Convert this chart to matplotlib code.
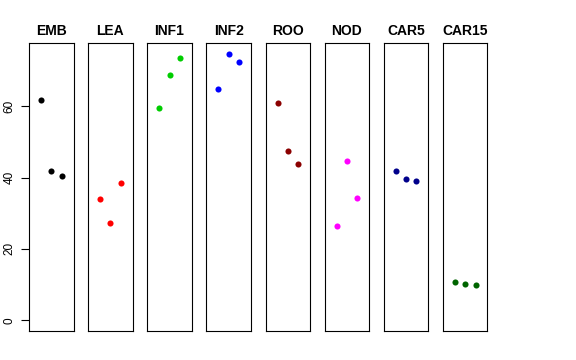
import matplotlib
matplotlib.use("Agg")
import matplotlib.pyplot as plt

plt.rcParams["font.family"] = ["Liberation Sans", "DejaVu Sans"]

groups = ["EMB", "LEA", "INF1", "INF2", "ROO", "NOD", "CAR5", "CAR15"]
colors = ["black", "#FF0000", "#00CD00", "#0000FF", "#8B0000", "#FF00FF", "#00008B", "#006400"]
positions = [1, 2, 3]
values = {
    "EMB": [61.6, 41.8, 40.4],
    "LEA": [33.9, 27.4, 38.5],
    "INF1": [59.5, 68.7, 73.4],
    "INF2": [64.9, 74.7, 72.3],
    "ROO": [60.9, 47.4, 43.8],
    "NOD": [26.3, 44.5, 34.2],
    "CAR5": [41.8, 39.5, 39.1],
    "CAR15": [10.6, 10.3, 9.9],
}
y_ticks = [0, 20, 40, 60]

W, H = 576, 360
fig = plt.figure(figsize=(W / 100, H / 100), dpi=100)

left0, step, width = 29, 59.14, 44.5
top, bottom = 43, 331
ymax = 74.7
pad = 0.04 * ymax

for i, (name, col) in enumerate(zip(groups, colors)):
    ax = fig.add_axes([(left0 + i * step) / W, (H - bottom) / H, width / W, (bottom - top) / H])
    ax.plot(positions, values[name], "o", color=col, markersize=4.4, markeredgewidth=0)
    ax.set_xlim(-0.16, 4.16)
    ax.set_ylim(-pad, ymax + pad)
    ax.set_xticks([])
    for s in ax.spines.values():
        s.set_linewidth(0.8)
    ax.set_title(name, fontsize=10, fontweight="bold", pad=6)
    if i == 0:
        ax.set_yticks(y_ticks)
        ax.set_yticklabels([str(t) for t in y_ticks], rotation=90, va="center", fontsize=8.5)
        ax.tick_params(axis="y", length=5.5, width=0.8, pad=4)
    else:
        ax.set_yticks([])

fig.savefig("out.png", dpi=100)
